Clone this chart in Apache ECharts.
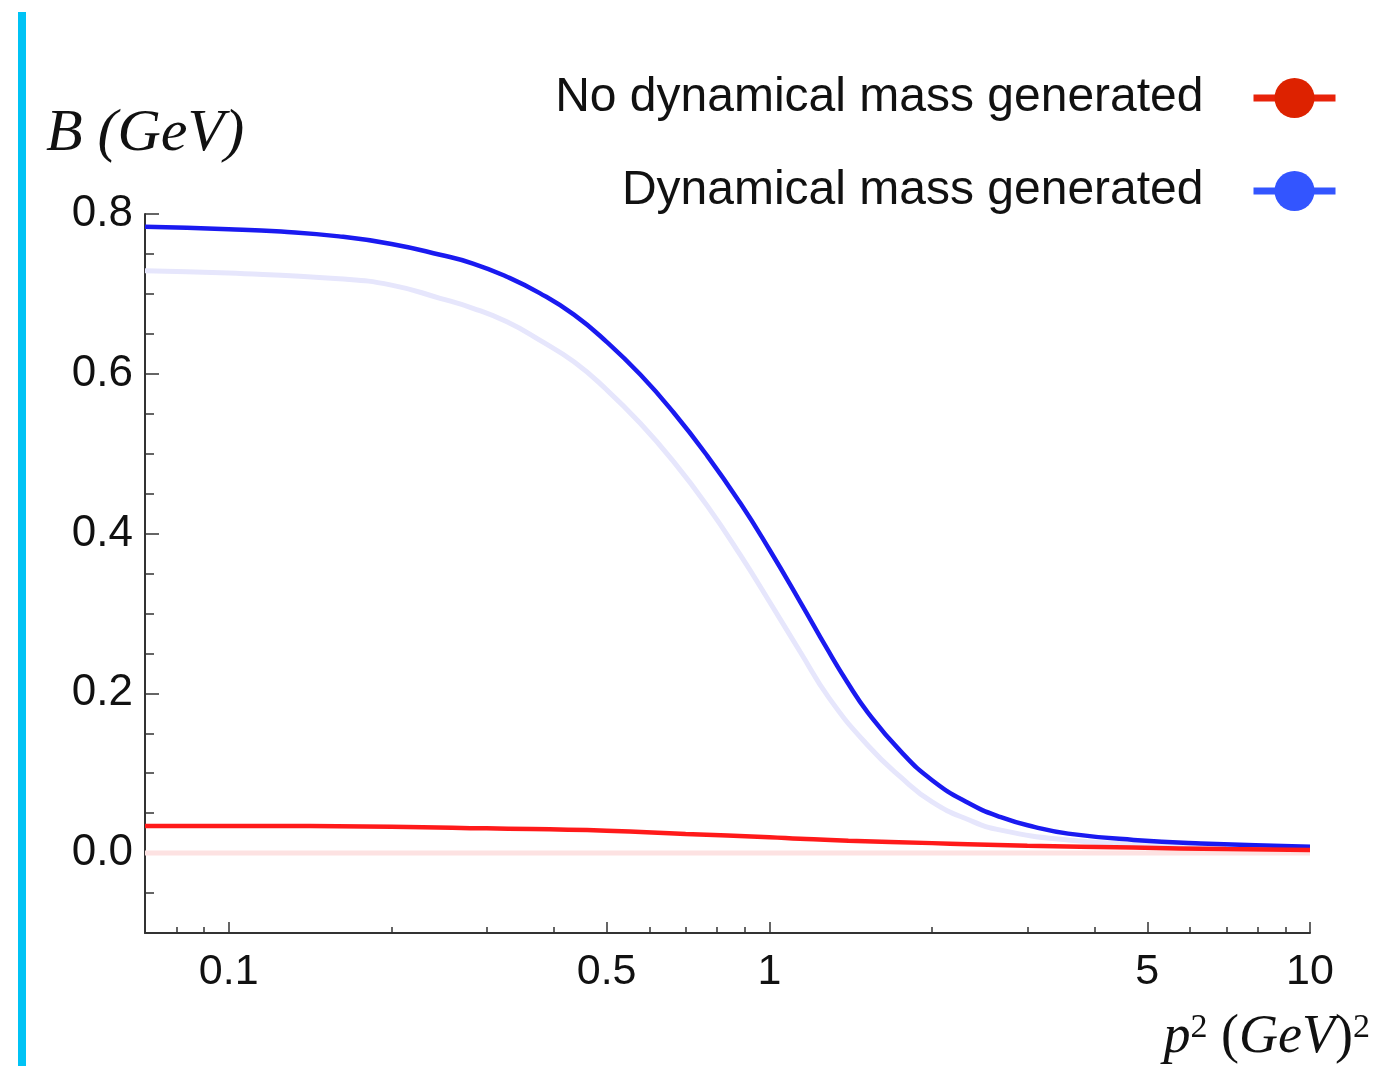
<!DOCTYPE html>
<html>
<head>
<meta charset="utf-8">
<script src="https://cdn.jsdelivr.net/npm/echarts@6/dist/echarts.min.js"></script>
<style>
  html, body { margin: 0; padding: 0; background: #fff; }
  #chart { width: 1378px; height: 1066px; }
</style>
</head>
<body>
<div id="chart"></div>
<script>
// p^2 in GeV^2, B in GeV
const p2Blue = [0.07, 0.1, 0.125, 0.16, 0.2, 0.246, 0.283, 0.327, 0.376, 0.435, 0.5, 0.577, 0.665, 0.767, 0.884, 1.0, 1.14, 1.28, 1.39, 1.52, 1.75, 2.0, 2.33, 2.68, 3.1, 3.57, 4.72, 6.28, 10]
const bBlue  = [0.784, 0.781, 0.778, 0.772, 0.7625, 0.749, 0.738, 0.7215, 0.701, 0.674, 0.640, 0.599, 0.5515, 0.4976, 0.4378, 0.380, 0.3146, 0.2552, 0.2151, 0.1763, 0.1273, 0.0913, 0.063, 0.045, 0.0326, 0.0244, 0.0165, 0.012, 0.008]

const p2BlueFaint = [0.07, 0.1, 0.16, 0.2, 0.246, 0.283, 0.327, 0.376, 0.435, 0.5, 0.577, 0.665, 0.767, 0.884, 1.0, 1.14, 1.29, 1.52, 1.75, 2.0, 2.33, 2.68, 3.57, 4.72, 6.3, 10]
const bBlueFaint  = [0.729, 0.726, 0.719, 0.711, 0.6945, 0.682, 0.665, 0.642, 0.615, 0.580, 0.538, 0.490, 0.435, 0.373, 0.315, 0.252, 0.194, 0.135, 0.095, 0.064, 0.042, 0.0288, 0.0163, 0.0113, 0.009, 0.0075]

const p2Red = [0.07, 0.1, 0.2, 0.3, 0.5, 0.7, 1.0, 1.14, 1.4, 2.0, 2.33, 3.0, 4.7, 7.0, 10]
const bRed  = [0.034, 0.034, 0.033, 0.031, 0.028, 0.024, 0.020, 0.018, 0.0155, 0.0125, 0.0112, 0.0093, 0.007, 0.005, 0.004]

const p2RedFaint = [0.07, 10]
const bRedFaint  = [0, 0]

const xMajorTicks = [0.1, 0.5, 1, 5, 10]
const xMinorTicks = [0.08, 0.09, 0.2, 0.3, 0.4, 0.6, 0.7, 0.8, 0.9, 2, 3, 4, 6, 7, 8, 9]
const yMajorTicks = [0, 0.2, 0.4, 0.6, 0.8]
const yMinorTicks = [-0.05, 0.05, 0.1, 0.15, 0.25, 0.3, 0.35, 0.45, 0.5, 0.55, 0.65, 0.7, 0.75]

const xMin = Math.log10(0.07)
const xMax = 1
const toPts = (xs, ys) => xs.map((x, i) => [Math.log10(x), ys[i]])

const chart = echarts.init(document.getElementById('chart'))

const sans = 'Liberation Sans, Arial, Helvetica, sans-serif'
const serif = 'Liberation Serif, Times New Roman, serif'

chart.setOption({
  animation: false,
  backgroundColor: '#fff',
  grid: { left: 145, right: 68, top: 214, bottom: 133, containLabel: false, outerBoundsMode: 'none' },
  graphic: [
    { type: 'rect', left: 18, top: 12, shape: { width: 8, height: 1054 }, style: { fill: '#00c3f5' } }
  ],
  legend: {
    orient: 'vertical',
    right: 39,
    top: 74,
    padding: 0,
    align: 'right',
    itemWidth: 82,
    itemHeight: 50,
    itemGap: 45,
    textStyle: { fontFamily: sans, fontSize: 48, color: '#111', padding: [0, 45, 0, 0] },
    data: [
      { name: 'No dynamical mass generated', itemStyle: { color: '#dd2200' }, lineStyle: { color: '#e8230a', width: 7 } },
      { name: 'Dynamical mass generated', itemStyle: { color: '#3355ff' }, lineStyle: { color: '#3355ff', width: 7 } }
    ]
  },
  xAxis: [
    {
      type: 'value', min: xMin, max: xMax, position: 'bottom',
      name: '{i|p}{s|2}{u| (}{i|GeV}{u|)}{s|2}',
      nameLocation: 'end', nameGap: 60,
      nameTextStyle: {
        align: 'right', verticalAlign: 'top', padding: [78, 0, 0, 0],
        rich: {
          i: { fontFamily: serif, fontStyle: 'italic', fontSize: 54, color: '#111' },
          u: { fontFamily: serif, fontSize: 54, color: '#111' },
          s: { fontFamily: serif, fontSize: 34, color: '#111', verticalAlign: 'top' }
        }
      },
      axisLine: { show: true, onZero: false, lineStyle: { color: '#333', width: 2 } },
      axisTick: { show: true, inside: true, length: 11, customValues: xMajorTicks.map(Math.log10), lineStyle: { color: '#333', width: 1.5 } },
      axisLabel: {
        show: true, margin: 18, fontFamily: sans, fontSize: 43, color: '#111',
        customValues: xMajorTicks.map(Math.log10),
        formatter: v => String(+Math.pow(10, v).toPrecision(3))
      },
      splitLine: { show: false }
    },
    {
      type: 'value', min: xMin, max: xMax, position: 'bottom',
      axisLine: { show: false, onZero: false },
      axisTick: { show: true, inside: true, length: 6, customValues: xMinorTicks.map(Math.log10), lineStyle: { color: '#333', width: 1.5 } },
      axisLabel: { show: false },
      splitLine: { show: false }
    }
  ],
  yAxis: [
    {
      type: 'value', min: -0.1, max: 0.8, position: 'left',
      name: 'B (GeV)',
      nameLocation: 'end', nameGap: 50,
      nameTextStyle: { fontFamily: serif, fontStyle: 'italic', fontSize: 60, color: '#111' },
      axisLine: { show: true, onZero: false, lineStyle: { color: '#333', width: 2 } },
      axisTick: { show: true, inside: true, length: 14, customValues: yMajorTicks, lineStyle: { color: '#333', width: 1.5 } },
      axisLabel: {
        show: true, margin: 12, fontFamily: sans, fontSize: 44, color: '#111',
        customValues: yMajorTicks,
        formatter: v => v.toFixed(1)
      },
      splitLine: { show: false }
    },
    {
      type: 'value', min: -0.1, max: 0.8, position: 'left',
      axisLine: { show: false, onZero: false },
      axisTick: { show: true, inside: true, length: 9, customValues: yMinorTicks, lineStyle: { color: '#333', width: 1.5 } },
      axisLabel: { show: false },
      splitLine: { show: false }
    }
  ],
  series: [
    {
      name: 'faint blue', type: 'line', xAxisIndex: 0, yAxisIndex: 0,
      data: toPts(p2BlueFaint, bBlueFaint), symbol: 'circle', showSymbol: false, smooth: 0.5,
      lineStyle: { color: '#e6e6fc', width: 5 }, itemStyle: { color: '#e6e6fc' }, z: 1
    },
    {
      name: 'faint red', type: 'line', xAxisIndex: 0, yAxisIndex: 0,
      data: toPts(p2RedFaint, bRedFaint), symbol: 'circle', showSymbol: false,
      lineStyle: { color: '#fde2e2', width: 5 }, itemStyle: { color: '#fde2e2' }, z: 1
    },
    {
      name: 'Dynamical mass generated', type: 'line', xAxisIndex: 0, yAxisIndex: 0,
      data: toPts(p2Blue, bBlue), symbol: 'circle', showSymbol: false, smooth: 0.5,
      lineStyle: { color: '#1a1af0', width: 4.5 }, itemStyle: { color: '#3355ff' }, z: 2
    },
    {
      name: 'No dynamical mass generated', type: 'line', xAxisIndex: 0, yAxisIndex: 0,
      data: toPts(p2Red, bRed), symbol: 'circle', showSymbol: false, smooth: 0.5,
      lineStyle: { color: '#ff1a1a', width: 4.5 }, itemStyle: { color: '#dd2200' }, z: 3
    }
  ]
})
</script>
</body>
</html>
